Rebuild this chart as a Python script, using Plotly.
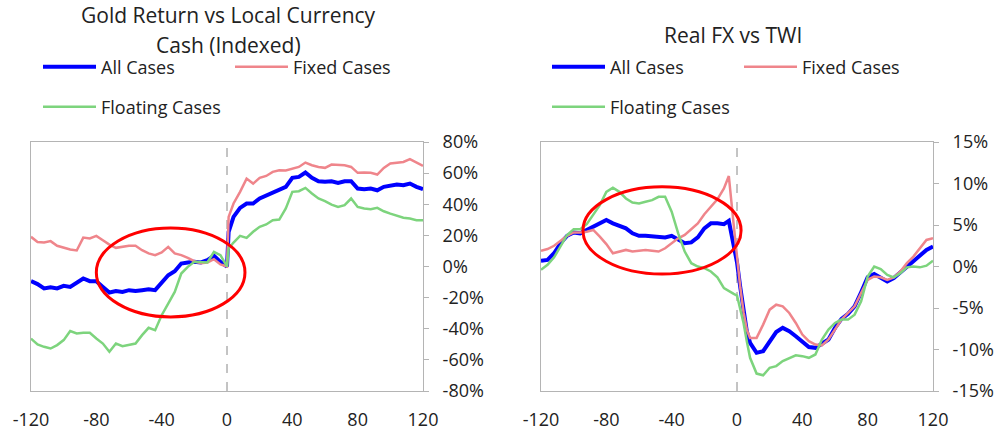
import plotly.graph_objects as go

# ---- data (values in %) ----
gold_x = [-120, -116, -112, -108, -104, -100, -96, -92, -88, -84,
          -80, -76, -72, -68, -64, -60, -56, -52, -48, -44,
          -40, -36, -32, -28, -24, -20, -16, -12, -8, -4, 0, 1,
          4, 8, 12, 16, 20, 24, 28, 32, 36, 40,
          44, 48, 52, 56, 60, 64, 68, 72, 76, 80,
          84, 88, 92, 96, 100, 104, 108, 112, 116, 120]
gold_all = [-9.4, -11.3, -14.1, -13.3, -14.1, -12.4, -13.1, -10.3, -7.7, -9.4,
            -9.4, -13.1, -16.7, -15.8, -16.3, -15.2, -15.8, -15.2, -14.6, -15.2,
            -10.3, -5.6, -3.0, 1.9, 2.6, 3.0, 2.6, 4.1, 6.9, 3.0, 0.0, 22.3,
            31.9, 37.7, 40.5, 40.5, 43.7, 45.4, 47.3, 49.0, 51.2, 57.0,
            57.6, 60.4, 57.0, 54.8, 54.4, 54.8, 53.7, 54.8, 54.8, 50.1,
            49.7, 50.1, 49.0, 51.2, 52.2, 52.7, 52.2, 53.3, 51.2, 49.7]
gold_fixed = [19.1, 15.8, 15.4, 16.3, 13.3, 12.0, 10.9, 10.3, 18.6, 18.0,
              19.7, 16.9, 14.1, 12.0, 12.6, 13.3, 13.3, 10.5, 8.4, 7.3,
              9.0, 12.6, 8.4, 7.3, 5.6, 3.4, 2.1, 2.6, 4.7, 1.3, 0.0, 31.9,
              40.5, 48.0, 56.5, 53.3, 57.0, 58.2, 60.8, 61.9, 61.7, 63.0,
              64.0, 66.8, 65.1, 64.0, 63.4, 65.5, 65.1, 65.1, 64.0, 60.2,
              60.4, 60.2, 59.1, 63.4, 66.2, 66.8, 67.2, 69.0, 66.8, 64.7]
gold_floating = [-46.3, -50.1, -51.6, -52.7, -50.5, -47.3, -41.5, -43.0, -42.6, -42.6,
                 -46.3, -49.5, -54.8, -49.5, -51.2, -50.5, -49.5, -44.1, -39.4, -40.9,
                 -31.3, -23.8, -16.3, -4.5, -0.2, 3.0, 3.0, 2.6, 9.4, 7.3, 0.0, 11.6,
                 15.4, 19.7, 18.4, 22.3, 25.5, 27.0, 29.8, 30.2, 37.3, 48.0,
                 48.4, 50.5, 46.9, 43.7, 42.0, 39.8, 38.3, 39.4, 43.7, 38.3,
                 37.3, 36.8, 37.7, 35.5, 34.0, 32.5, 31.3, 30.8, 29.8, 29.8]

fx_x = [-120, -116, -112, -108, -104, -100, -96, -92, -88, -84,
        -80, -76, -72, -68, -64, -60, -56, -52, -48, -44,
        -40, -36, -32, -28, -24, -20, -16, -12, -8, -5, -2, 0, 2, 4, 6,
        8, 12, 16, 20, 24, 28, 32, 36, 40,
        44, 48, 52, 56, 60, 64, 68, 72, 76, 80,
        84, 88, 92, 96, 100, 104, 108, 112, 116, 120]
fx_all = [0.7, 0.8, 1.6, 2.8, 3.7, 4.1, 4.0, 4.4, 4.9, 5.2,
          5.6, 5.2, 4.9, 4.6, 4.0, 3.7, 3.7, 3.6, 3.5, 3.5,
          3.7, 3.3, 2.8, 2.9, 3.5, 4.6, 5.2, 5.2, 5.1, 5.5, 2.5, 0.5, -2.5, -5.5, -7.8,
          -9.2, -10.4, -10.2, -9.0, -7.9, -7.4, -7.8, -8.4, -9.1,
          -9.7, -9.8, -9.3, -8.8, -7.4, -6.3, -5.7, -4.8, -3.1, -1.3,
          -0.9, -1.3, -1.8, -1.4, -0.7, 0.0, 0.6, 1.4, 2.0, 2.4]
fx_fixed = [1.9, 2.1, 2.5, 3.1, 3.7, 4.1, 4.1, 4.2, 4.4, 3.6,
            2.7, 1.6, 1.8, 2.0, 1.8, 1.9, 2.0, 1.9, 1.8, 2.2,
            2.8, 3.4, 3.8, 4.5, 5.2, 6.3, 7.2, 8.1, 9.4, 10.9, 5.0, 1.0, -2.5, -5.5, -7.6,
            -8.6, -8.6, -7.0, -5.2, -4.6, -4.8, -5.6, -6.8, -8.2,
            -9.0, -9.4, -9.5, -8.8, -7.6, -6.4, -5.6, -4.8, -3.2, -1.6,
            -1.2, -1.3, -1.6, -1.3, -0.6, 0.4, 1.2, 2.2, 3.2, 3.4]
fx_floating = [-0.4, 0.2, 1.1, 2.5, 3.8, 4.5, 4.5, 5.1, 6.2, 7.4,
               9.0, 9.5, 9.0, 8.2, 7.7, 7.6, 7.8, 8.0, 8.4, 8.4,
               6.6, 4.0, 1.8, 0.4, 0.0, -0.2, -0.6, -1.3, -2.6, -3.0, -3.3, -3.5, -5.0, -6.8, -9.0,
               -11.0, -12.9, -13.1, -12.2, -12.0, -11.4, -11.0, -10.7, -10.8,
               -11.0, -10.6, -8.8, -7.6, -6.8, -6.4, -6.4, -5.8, -4.2, -1.2,
               0.0, -0.3, -1.0, -1.3, -0.8, -0.1, 0.0, -0.1, 0.1, 0.7]

x_ticks = [-120, -80, -40, 0, 40, 80, 120]
x_tick_labels = ["-120", "-80", "-40", "0", "40", "80", "120"]
gold_ticks = [-80, -60, -40, -20, 0, 20, 40, 60, 80]
gold_tick_labels = ["-80%", "-60%", "-40%", "-20%", "0%", "20%", "40%", "60%", "80%"]
fx_ticks = [-15, -10, -5, 0, 5, 10, 15]
fx_tick_labels = ["-15%", "-10%", "-5%", "0%", "5%", "10%", "15%"]

BLUE = "#0000FF"
PINK = "#EF858B"
GREEN = "#7DD47D"
AXIS = "#B4B4B4"
FONT = "Open Sans"

fig = go.Figure()

series = [
    ("All Cases", BLUE, 4, "legend", "legend2"),
    ("Fixed Cases", PINK, 2.5, "legend", "legend2"),
    ("Floating Cases", GREEN, 2.5, "legend3", "legend4"),
]
gold_vals = [gold_all, gold_fixed, gold_floating]
fx_vals = [fx_all, fx_fixed, fx_floating]

for (name, color, w, lg_l, lg_r), gy, fy in zip(series, gold_vals, fx_vals):
    fig.add_trace(go.Scatter(x=gold_x, y=gy, mode="lines", name=name,
                             line=dict(color=color, width=w),
                             xaxis="x", yaxis="y", legend=lg_l))
    fig.add_trace(go.Scatter(x=fx_x, y=fy, mode="lines", name=name,
                             line=dict(color=color, width=w),
                             xaxis="x2", yaxis="y2", legend=lg_r))

y_dom = [0.097, 0.672]
mid = sum(y_dom) / 2

def bottom_axis(dom, anchor):
    return dict(domain=dom, anchor=anchor, range=[-120, 120],
                tickvals=x_ticks, ticktext=x_tick_labels,
                showline=True, mirror=True, linecolor=AXIS, linewidth=1,
                ticks="", showgrid=False, zeroline=False,
                ticklabelstandoff=12,
                tickfont=dict(family=FONT, size=18, color="#222"))

def zero_axis(over):
    return dict(overlaying=over, anchor="free", position=mid, range=[-120, 120],
                tickvals=x_ticks, showticklabels=False,
                showline=True, linecolor=AXIS, linewidth=1,
                ticks="outside", ticklen=5, tickcolor=AXIS,
                showgrid=False, zeroline=False)

def right_axis(anchor, rng, tv, tt):
    return dict(domain=y_dom, anchor=anchor, side="right", range=rng,
                tickvals=tv, ticktext=tt, ticks="outside", ticklen=5,
                tickcolor=AXIS, showline=True, mirror=True, linecolor=AXIS,
                linewidth=1, showgrid=False, zeroline=False,
                ticklabelstandoff=10,
                tickfont=dict(family=FONT, size=18, color="#222"))

legend_common = dict(orientation="h", xanchor="left", yanchor="middle",
                     bgcolor="rgba(0,0,0,0)", font=dict(family=FONT, size=18, color="#222"),
                     entrywidthmode="pixels", entrywidth=124, itemwidth=53,
                     itemclick=False, itemdoubleclick=False)

fig.update_layout(
    width=1000, height=433,
    margin=dict(l=0, r=0, t=0, b=0, autoexpand=False),
    paper_bgcolor="white", plot_bgcolor="white",
    font=dict(family=FONT, color="#222"),
    xaxis=bottom_axis([0.031, 0.423], "y"),
    xaxis2=bottom_axis([0.541, 0.933], "y2"),
    xaxis3=zero_axis("x"),
    xaxis4=zero_axis("x2"),
    yaxis=right_axis("x", [-80, 80], gold_ticks, gold_tick_labels),
    yaxis2=right_axis("x2", [-15, 15], fx_ticks, fx_tick_labels),
    legend=dict(legend_common, x=0.038, y=0.845),
    legend2=dict(legend_common, x=0.547, y=0.845),
    legend3=dict(legend_common, x=0.038, y=0.753),
    legend4=dict(legend_common, x=0.547, y=0.753),
    showlegend=True,
)

# titles
title_font = dict(family=FONT, size=21, color="#222")
for txt, xp, yp in [("Gold Return vs Local Currency", 0.228, 15),
                    ("Cash (Indexed)", 0.228, 45),
                    ("Real FX vs TWI", 0.733, 35)]:
    fig.add_annotation(text=txt, x=xp, y=1 - yp / 433, xref="paper", yref="paper",
                       xanchor="center", yanchor="middle", showarrow=False,
                       font=title_font)

# dashed vertical line at event day
for xr, yr in [("x", "y domain"), ("x2", "y2 domain")]:
    fig.add_shape(type="line", xref=xr, yref=yr, x0=0, x1=0, y0=0, y1=1,
                  line=dict(color="#888", width=1, dash="dash"), layer="below")

# red highlight ellipses
fig.add_shape(type="circle", xref="x", yref="y", x0=-80, x1=11, y0=-32.4, y1=24.7,
              line=dict(color="#FF0000", width=3))
fig.add_shape(type="circle", xref="x2", yref="y2", x0=-94.3, x1=2.5, y0=-0.9, y1=9.6,
              line=dict(color="#FF0000", width=3))

# page body has a default 8px margin; remove it so the 1000x433 figure fills the window
fig.write_html("out.html", config={"displayModeBar": False},
               post_script="document.body.style.margin='0';")
